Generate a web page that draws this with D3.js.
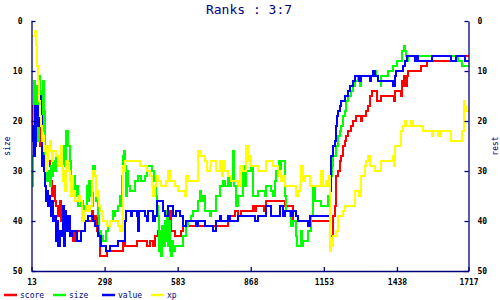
<!DOCTYPE html>
<html><head><meta charset="utf-8">
<script src="https://cdn.jsdelivr.net/npm/d3@7"></script>
<style>
html,body{margin:0;padding:0;background:#fff;}
svg{display:block;}
text{font-family:"DejaVu Sans Mono","Liberation Mono",monospace;}
</style></head>
<body><svg id="c" width="500" height="300"></svg>
<script>
const title = "Ranks : 3:7";
const leftTitle = "size";
const rightTitle = "rest";
const xTicks = [13, 298, 583, 868, 1153, 1438, 1717];
const yTicks = [0, 10, 20, 30, 40, 50];
const seriesNames = ["score", "size", "value", "xp"];
const seriesColors = ["#ff0000", "#00ff00", "#0000ff", "#ffff00"];

const score = [[13,17],[17,22],[21,18],[25,21],[29,19],[34,23],[38,20],[46,25],[50,22],[54,26],[62,27],[70,28],[85,29],[89,32],[93,35],[97,33],[105,36],[109,37],[116,39],[124,36],[128,40],[136,39],[140,41],[148,39],[155,42],[163,43],[171,42],[175,44],[183,42],[202,42],[222,40],[241,40],[249,38],[253,40],[261,39],[269,42],[280,47],[308,46],[370,44],[378,45],[425,44],[464,45],[476,44],[487,45],[495,43],[507,42],[515,43],[526,41],[538,42],[546,41],[554,38],[558,42],[573,43],[597,42],[604,41],[655,40],[663,41],[780,40],[788,39],[807,38],[819,39],[831,38],[878,37],[886,38],[889,37],[921,38],[928,36],[1000,37],[1034,40],[1092,41],[1104,40],[1178,43],[1190,39],[1198,37],[1202,31],[1210,30],[1217,28],[1221,27],[1229,25],[1237,24],[1241,23],[1249,22],[1260,21],[1268,20],[1280,19],[1299,20],[1303,19],[1319,18],[1327,17],[1334,15],[1342,14],[1362,16],[1370,16],[1377,15],[1428,16],[1432,14],[1452,15],[1459,12],[1463,13],[1467,11],[1475,13],[1479,11],[1483,10],[1530,9],[1557,8],[1647,7],[1717,7]];

const size = [[13,33],[17,27],[21,12],[25,15],[29,20],[34,13],[38,24],[42,11],[46,19],[50,14],[54,22],[58,12],[62,18],[66,27],[70,32],[77,30],[85,33],[89,29],[93,31],[97,28],[105,30],[109,27],[116,29],[124,27],[132,25],[140,29],[148,22],[155,25],[163,28],[167,33],[175,31],[183,35],[191,33],[195,37],[206,36],[214,38],[222,37],[230,33],[234,36],[237,32],[241,35],[249,37],[253,29],[261,31],[265,36],[273,39],[277,42],[284,43],[292,44],[304,42],[312,41],[319,40],[331,38],[335,39],[339,38],[351,37],[358,35],[362,37],[366,31],[370,27],[374,26],[378,29],[382,35],[386,30],[390,33],[398,34],[417,32],[429,31],[440,32],[456,31],[464,29],[483,30],[491,32],[499,35],[503,37],[507,39],[511,46],[515,42],[519,47],[522,41],[526,45],[534,40],[538,44],[542,38],[546,45],[550,40],[554,46],[558,47],[562,44],[565,46],[573,45],[604,43],[616,41],[624,40],[636,39],[643,38],[663,36],[671,34],[675,36],[683,35],[690,38],[710,39],[714,38],[733,35],[749,33],[761,32],[768,33],[780,31],[788,33],[792,32],[800,26],[804,33],[811,37],[819,35],[839,29],[843,33],[850,30],[870,29],[878,35],[897,34],[925,35],[928,33],[948,34],[956,35],[964,32],[968,30],[975,31],[979,28],[983,30],[987,28],[1000,31],[1003,35],[1007,38],[1022,39],[1026,41],[1034,40],[1046,43],[1049,45],[1065,42],[1069,45],[1073,44],[1092,42],[1104,39],[1112,33],[1120,36],[1143,37],[1170,35],[1178,33],[1182,31],[1186,29],[1190,27],[1202,25],[1210,23],[1217,22],[1221,21],[1229,19],[1237,18],[1241,16],[1249,15],[1260,14],[1268,13],[1276,12],[1288,11],[1295,13],[1299,11],[1346,10],[1358,11],[1366,12],[1374,13],[1377,11],[1405,10],[1424,9],[1440,8],[1459,6],[1467,5],[1471,6],[1475,7],[1479,8],[1483,7],[1678,8],[1690,9],[1717,9]];

const value = [[13,24],[17,21],[21,27],[25,17],[29,25],[31,19],[34,21],[38,17],[42,21],[46,15],[50,19],[54,29],[58,27],[62,30],[66,33],[70,36],[74,34],[77,37],[81,35],[85,37],[89,39],[93,36],[97,40],[105,39],[109,44],[113,40],[117,45],[124,42],[128,43],[136,37],[140,45],[144,38],[148,42],[155,39],[163,43],[171,42],[191,44],[206,42],[222,40],[234,39],[253,40],[261,41],[273,43],[284,45],[304,46],[319,45],[343,45],[351,44],[378,40],[382,38],[398,38],[402,39],[405,38],[425,39],[429,42],[433,38],[456,39],[464,40],[468,38],[487,40],[495,39],[503,36],[515,36],[526,38],[534,39],[546,37],[565,39],[577,38],[593,39],[604,41],[616,40],[655,41],[663,40],[690,41],[722,42],[733,40],[749,39],[753,40],[780,39],[788,40],[819,39],[886,40],[897,39],[928,37],[948,39],[983,37],[995,39],[1003,38],[1026,39],[1034,38],[1046,39],[1053,40],[1092,41],[1100,39],[1178,34],[1182,27],[1190,25],[1198,24],[1202,21],[1206,19],[1210,18],[1217,17],[1221,16],[1237,15],[1249,14],[1256,13],[1268,12],[1276,11],[1291,12],[1299,11],[1334,12],[1338,11],[1346,10],[1354,11],[1366,12],[1424,13],[1432,11],[1436,10],[1463,9],[1471,8],[1479,7],[1510,8],[1514,7],[1522,8],[1573,7],[1647,8],[1670,7],[1705,8],[1717,8]];

const xp = [[13,3],[27,2],[30,5],[34,7],[36,9],[38,12],[42,16],[46,19],[50,21],[54,24],[58,23],[62,26],[66,25],[70,30],[74,28],[77,25],[85,24],[89,26],[93,28],[97,26],[109,27],[116,29],[124,27],[128,25],[132,29],[136,32],[140,30],[144,34],[148,28],[155,30],[163,32],[167,35],[171,31],[175,34],[183,36],[195,35],[202,36],[210,40],[218,38],[226,37],[234,38],[241,37],[249,34],[253,30],[261,31],[265,35],[269,34],[277,37],[280,38],[288,39],[292,40],[308,41],[319,40],[351,41],[358,42],[370,29],[374,30],[378,28],[437,29],[464,30],[476,31],[483,33],[487,35],[495,33],[499,31],[507,32],[519,33],[538,32],[546,30],[554,32],[573,33],[585,34],[612,35],[616,31],[624,32],[663,26],[671,27],[690,28],[698,30],[710,29],[714,28],[733,30],[749,28],[757,31],[761,28],[768,30],[780,31],[792,32],[819,33],[827,29],[839,30],[850,25],[858,28],[866,27],[870,29],[897,30],[928,28],[956,29],[975,31],[983,30],[987,32],[995,31],[1003,33],[1046,35],[1053,34],[1061,33],[1065,29],[1073,32],[1081,31],[1100,33],[1143,30],[1151,33],[1163,32],[1170,33],[1174,31],[1178,46],[1182,44],[1186,45],[1190,43],[1202,42],[1210,39],[1229,38],[1237,37],[1276,34],[1291,35],[1299,31],[1315,29],[1319,28],[1327,27],[1334,29],[1354,30],[1374,28],[1424,27],[1428,29],[1432,25],[1455,22],[1463,21],[1471,20],[1475,21],[1491,20],[1502,21],[1541,22],[1573,23],[1577,22],[1600,23],[1604,22],[1647,24],[1690,22],[1701,16],[1705,17],[1709,18],[1717,18]];

const allSeries = [score, size, value, xp];

const navy = "#000080";
const svg = d3.select("#c");
const x = d3.scaleLinear().domain([13, 1717]).range([31.5, 468.5]);
const y = d3.scaleLinear().domain([0, 50]).range([21, 271]);

// series
const line = d3.line().x(d => x(d[0])).y(d => y(d[1])).curve(d3.curveStepAfter);
allSeries.forEach((s, i) => {
  svg.append("path").attr("d", line(s)).attr("fill", "none")
    .attr("stroke", seriesColors[i]).attr("stroke-width", 2)
    .attr("shape-rendering", "crispEdges");
});

// axes
const fmt = d3.format("d");
const axisL = d3.axisLeft(y).tickValues(yTicks).tickFormat(fmt).tickSize(-4).tickPadding(9).tickSizeOuter(0);
const axisR = d3.axisRight(y).tickValues(yTicks).tickFormat(fmt).tickSize(-4).tickPadding(9).tickSizeOuter(0);
const axisB = d3.axisBottom(x).tickValues(xTicks).tickFormat(fmt).tickSize(-4).tickPadding(8).tickSizeOuter(0);
function style(g) {
  g.select(".domain").attr("stroke", navy).attr("stroke-width", 1.3);
  g.selectAll(".tick line").attr("stroke", navy).attr("stroke-width", 1.3);
  g.selectAll(".tick text").attr("fill", "#000").attr("font-size", 8).attr("font-weight", "bold")
    .attr("font-family", "DejaVu Sans Mono, monospace");
}
svg.append("g").attr("transform", "translate(31.5,0)").call(axisL).call(style);
svg.append("g").attr("transform", "translate(468.5,0)").call(axisR).call(style);
svg.append("g").attr("transform", "translate(0,271)").call(axisB).call(style);

// title
svg.append("text").attr("x", 249).attr("y", 13.5).attr("text-anchor", "middle")
  .attr("font-size", 13).attr("fill", navy).text(title);

// axis titles
svg.append("text").attr("transform", "translate(10,146) rotate(-90)").attr("text-anchor", "middle")
  .attr("font-size", 8).attr("fill", navy).text(leftTitle);
svg.append("text").attr("transform", "translate(498,146) rotate(-90)").attr("text-anchor", "middle")
  .attr("font-size", 8).attr("fill", navy).text(rightTitle);

// legend
seriesNames.forEach((n, i) => {
  const lx = 4 + i * 49;
  svg.append("line").attr("x1", lx).attr("x2", lx + 13).attr("y1", 295).attr("y2", 295)
    .attr("stroke", seriesColors[i]).attr("stroke-width", 2.5);
  svg.append("text").attr("x", lx + 16).attr("y", 298).attr("font-size", 8)
    .attr("fill", navy).text(n);
});
</script></body></html>
